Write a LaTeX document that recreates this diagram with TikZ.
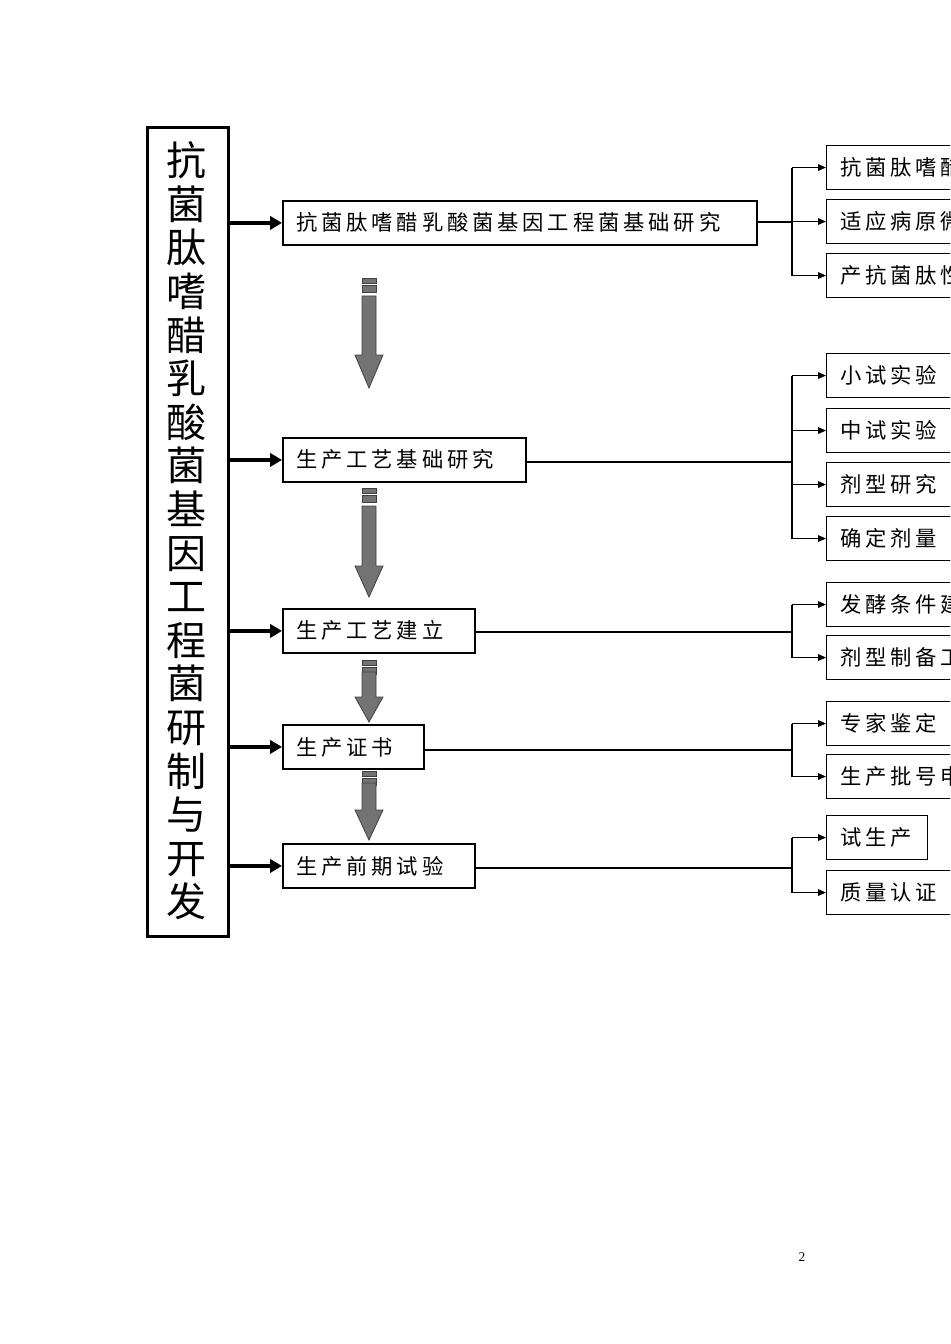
\documentclass[tikz,border=0pt]{standalone}
\usepackage{fontspec}
\setmainfont{Liberation Serif}
\newfontfamily\cjk{Noto Sans CJK SC}
\newfontfamily\cjksp[LetterSpace=18]{Noto Sans CJK SC}
\usetikzlibrary{arrows.meta}
\begin{document}
\begin{tikzpicture}[x=0.75pt,y=-0.75pt,
  mainbox/.style={draw,line width=1.4pt,minimum height=33pt,anchor=north west,inner sep=0},
  subbox/.style={draw,line width=0.8pt,minimum height=33pt,anchor=north west,inner sep=0},
  txt/.style={anchor=west,font=\cjksp\fontsize{16}{16}\selectfont,inner sep=0},
  thick arrow/.style={line width=2.6pt,-{Triangle[length=9pt,width=10pt]}},
  thin arrow/.style={line width=0.8pt,-{Triangle[length=6pt,width=5pt]}},
  blk/.style={fill=black!55,draw=black!75,line width=0.6pt}]
\useasboundingbox (0,0) rectangle (950,1344);
\clip (0,0) rectangle (950,1344);
% left title box
\node[draw,line width=2.2pt,minimum width=61pt,minimum height=607pt,anchor=north west,inner sep=0] (L) at (146,126) {};
\node[font=\cjk\fontsize{30}{32.7}\selectfont,align=center,text width=40pt] (Lt) at (186.5,531)
 {抗\\菌\\肽\\嗜\\醋\\乳\\酸\\菌\\基\\因\\工\\程\\菌\\研\\制\\与\\开\\发};
% main boxes
\node[mainbox,minimum width=355.5pt] (m1) at (282,200) {};
\node[txt] at (296,222) {抗菌肽嗜醋乳酸菌基因工程菌基础研究};
\node[mainbox,minimum width=182pt] (m2) at (282,437) {};
\node[txt] at (296,459) {生产工艺基础研究};
\node[mainbox,minimum width=144pt] (m3) at (282,608) {};
\node[txt] at (296,630) {生产工艺建立};
\node[mainbox,minimum width=105.5pt] (m4) at (282,724) {};
\node[txt] at (296,747) {生产证书};
\node[mainbox,minimum width=144pt] (m5) at (282,843) {};
\node[txt] at (296,866) {生产前期试验};
% thick arrows
\foreach \n in {m1,m2,m3,m4,m5}{
  \draw[thick arrow] (L.east |- \n.west) -- (\n.west);
}
% block arrows: x center 369
\foreach \t/\s/\h/\e in {278/296/355/388, 488/506/566/597, 660/672/697/722, 771/783/810/840}{
  \fill[blk] (362,\t) rectangle (376,\t+5);
  \fill[blk] (362,\t+7) rectangle (376,\t+14);
  \filldraw[blk] (362,\s) -- (376,\s) -- (376,\h) -- (383,\h) -- (369,\e) -- (355,\h) -- (362,\h) -- cycle;
}
% sub boxes
\foreach \y/\w/\t/\nm in {
  145/200/抗菌肽嗜醋乳酸菌/s1, 199/200/适应病原微生物/s2, 253/200/产抗菌肽性能/s3,
  353/200/小试实验/s4, 408/200/中试实验/s5, 462/200/剂型研究/s6, 516/200/确定剂量/s7,
  582/200/发酵条件建立/s8, 635/200/剂型制备工艺/s9,
  701/200/专家鉴定/s10, 754/200/生产批号申请/s11,
  815/76/试生产/s12, 870/200/质量认证/s13}{
  \node[subbox,minimum width=\w pt] (\nm) at (826,\y) {};
  \node[txt] at (840,\y+22) {\t};
}
% connectors
\coordinate (b1) at (792,222);
\coordinate (b2) at (792,462);
\coordinate (b3) at (792,632);
\coordinate (b4) at (792,750);
\coordinate (b5) at (792,868);
\draw[line width=0.8pt] (m1.east |- b1) -- (b1);
\draw[line width=0.8pt] (m2.east |- b2) -- (b2);
\draw[line width=0.8pt] (m3.east |- b3) -- (b3);
\draw[line width=0.8pt] (m4.east |- b4) -- (b4);
\draw[line width=0.8pt] (m5.east |- b5) -- (b5);
\foreach \b/\a/\c in {b1/s1/s3, b2/s4/s7, b3/s8/s9, b4/s10/s11, b5/s12/s13}{
  \draw[line width=0.8pt] (\b |- \a.west) -- (\b |- \c.west);
}
\foreach \b/\s in {b1/s1,b1/s2,b1/s3,b2/s4,b2/s5,b2/s6,b2/s7,b3/s8,b3/s9,b4/s10,b4/s11,b5/s12,b5/s13}{
  \draw[thin arrow] (\b |- \s.west) -- (\s.west);
}
\node[font=\fontsize{10}{10}\selectfont] (pg) at (802,1257) {2};
\end{tikzpicture}
\end{document}
